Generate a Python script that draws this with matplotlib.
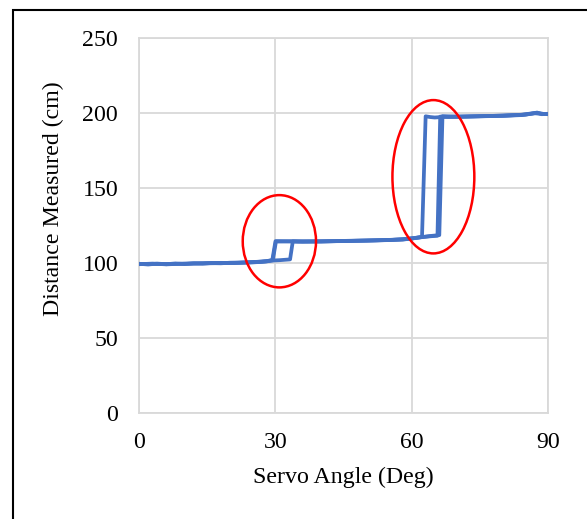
import matplotlib.pyplot as plt
from matplotlib.patches import Ellipse, Rectangle

# Sweep 1: early jump near 30 deg and near 62 deg
angle_a = [0, 2, 4, 6, 8, 10, 12, 14, 16, 18, 20, 22, 24, 26, 28, 29.3, 30.0,
           32, 35, 40, 45, 50, 55, 58, 60, 61, 62.2, 63.0, 64, 65, 67, 70, 75,
           80, 84, 86, 87.5, 88.5, 90]
dist_a = [99.5, 99.0, 99.6, 99.2, 99.7, 99.3, 99.8, 99.6, 100.0, 99.8, 100.2,
          100.3, 100.5, 100.8, 101.2, 102.0, 114.6, 114.5, 114.3, 114.5, 114.6,
          115.0, 115.4, 115.8, 116.3, 116.8, 117.4, 197.8, 197.3, 197.0, 197.4,
          197.5, 197.8, 198.1, 198.6, 199.4, 200.3, 199.2, 199.5]

# Sweep 2: late jump near 33 deg and near 66 deg
angle_b = [0, 3, 6, 9, 12, 15, 18, 21, 24, 27, 29, 31, 33.2, 33.8, 36, 40, 45,
           50, 55, 58, 60, 62, 64, 65.6, 66.2, 68, 72, 76, 80, 84, 86, 88, 89,
           90]
dist_b = [99.2, 99.6, 99.1, 99.5, 99.7, 99.9, 100.1, 100.0, 100.4, 100.9,
          101.6, 101.9, 102.4, 114.4, 114.2, 114.4, 114.7, 114.9, 115.3, 115.9,
          116.5, 117.2, 117.8, 118.2, 197.6, 197.4, 197.6, 197.9, 198.3, 198.8,
          199.6, 199.9, 199.3, 199.2]

# Sweep 3: jump near 30 deg and near 66.5 deg
angle_c = [0, 5, 10, 15, 20, 25, 28, 29.4, 30.1, 34, 40, 46, 52, 58, 61, 64,
           66.0, 66.7, 70, 75, 80, 85, 87, 88, 90]
dist_c = [99.4, 99.3, 99.5, 99.8, 100.0, 100.4, 101.0, 101.8, 114.3, 114.5,
          114.3, 114.8, 115.1, 115.6, 116.8, 118.0, 118.6, 197.9, 197.6, 197.9,
          198.2, 198.9, 200.0, 199.5, 199.3]

x_ticks = [0, 30, 60, 90]
y_ticks = [0, 50, 100, 150, 200, 250]

plt.rcParams['font.family'] = 'Liberation Serif'

fig = plt.figure(figsize=(5.87, 5.19), dpi=100)
ax = fig.add_axes([0.2368, 0.2042, 0.6976, 0.7226])

line_color = '#4472C4'
for xs, ys in [(angle_a, dist_a), (angle_b, dist_b), (angle_c, dist_c)]:
    ax.plot(xs, ys, color=line_color, lw=2.7, solid_joinstyle='round',
            solid_capstyle='round', zorder=3)

ax.set_xlim(0, 90)
ax.set_ylim(0, 250)
ax.set_xticks(x_ticks)
ax.set_yticks(y_ticks)
ax.grid(True, color='#d9d9d9', lw=1.3, zorder=0)
ax.set_axisbelow(True)
for s in ax.spines.values():
    s.set_color('#d9d9d9')
    s.set_linewidth(1.3)
ax.tick_params(length=0, labelsize=17.2, colors='black')
ax.tick_params(axis='x', pad=14)
ax.tick_params(axis='y', pad=15)

# axis titles placed in figure coordinates
fig.text(343.5 / 587, 1 - 477 / 519, 'Servo Angle (Deg)', fontsize=17.2,
         ha='center', va='center')
fig.text(53 / 587, 1 - 198.5 / 519, 'Distance Measured (cm)', fontsize=17.2,
         ha='center', va='center', rotation=90)

# highlight the two transition regions
ax.add_patch(Ellipse((30.85, 114.5), 16.1, 61.5, fill=False,
                     edgecolor='red', lw=1.8, clip_on=False, zorder=4))
ax.add_patch(Ellipse((64.7, 157.5), 18.0, 102.2, fill=False,
                     edgecolor='red', lw=1.8, clip_on=False, zorder=4))

# outer frame
fig.patches.append(Rectangle((13 / 587, -0.05), 1.2, 0.05 + 1 - 10 / 519,
                             transform=fig.transFigure, fill=False,
                             edgecolor='black', lw=1.5))

fig.savefig('out.png', dpi=100)
